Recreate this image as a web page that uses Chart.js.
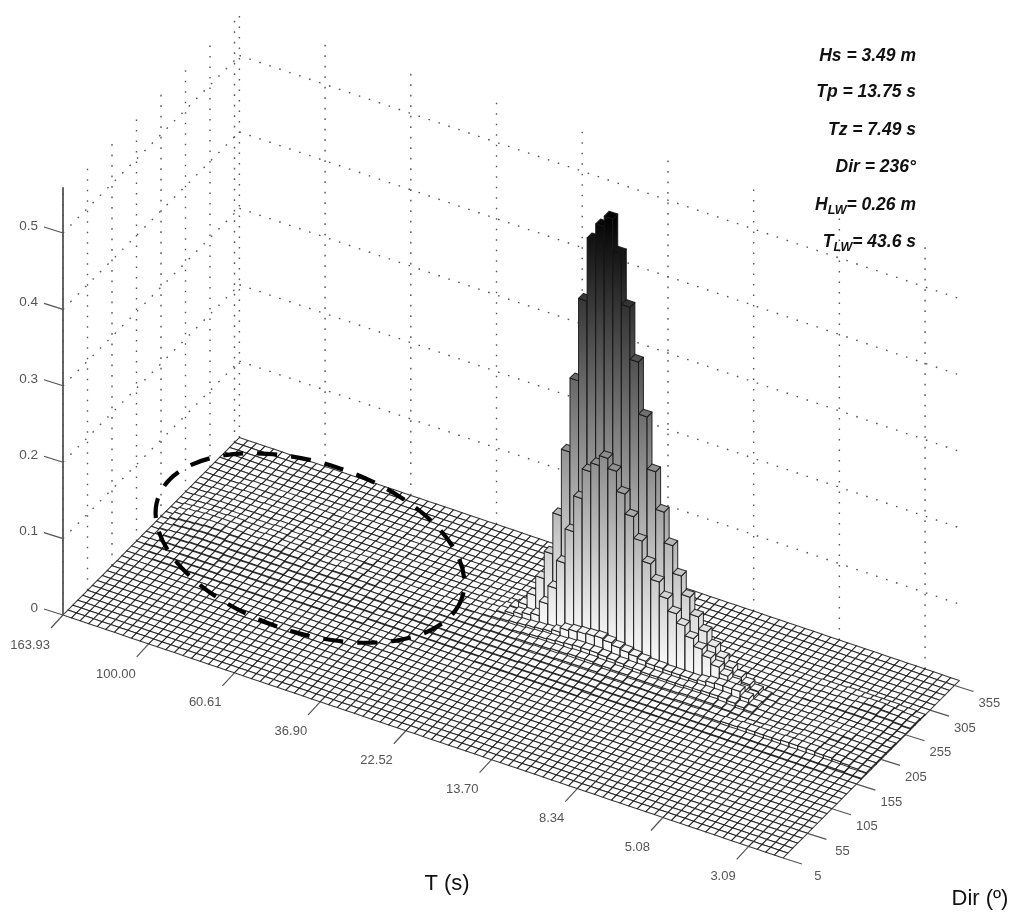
<!DOCTYPE html>
<html><head><meta charset="utf-8">
<style>html,body{margin:0;padding:0;background:#fff}canvas{display:block;filter:blur(.55px)}</style>
<script src="https://cdn.jsdelivr.net/npm/chart.js@4"></script>
</head><body><canvas id="c" width="1024" height="921"></canvas>
<script>
const tLabels=["163.93","100.00","60.61","36.90","22.52","13.70","8.34","5.08","3.09"];
const dirLabels=["5","55","105","155","205","255","305","355"];
const zTicks=[0,0.1,0.2,0.3,0.4,0.5];
const stats=[["Hs = 3.49 m"],["Tp = 13.75 s"],["Tz = 7.49 s"],["Dir = 236°"],["H","LW","= 0.26 m"],["T","LW","= 43.6 s"]];
// bar heights in thousandths, one array per direction bin, one entry per period bin
const dir135=[0,0,0,1,1,1,1,1,1,1,1,1,1,1,1,1,1,1,0,0];
const dir145=[0,0,1,1,2,2,2,2,2,2,1,1,1,1,1,1,1,1,1,1,1,1,1,1,1,1,1,0,0,0,0,0,0,0,0,0,0,0,0,0,1,1,1,1,1,1,1,1,1,1,1,1];
const dir155=[0,1,2,2,2,3,3,3,3,2,2,2,2,2,2,2,2,2,1,1,1,1,1,1,1,1,1,1,1,1,1,1,1,1,1,1,1,1,1,1,1,1,1,1,2,2,2,2,2,2,2,2,2,1,1,1,1,1,1,1,1,1,1,1,1,1,1,1,1,1,1,1,1,1,1,1,1,1,1,1];
const dir165=[0,1,2,3,3,4,4,4,4,3,3,3,3,3,3,3,3,2,2,2,2,2,2,2,2,2,2,1,1,1,1,1,1,2,2,2,2,2,2,2,2,2,2,2,3,3,3,3,3,3,3,3,3,2,2,2,2,2,2,2,2,2,2,2,2,2,2,2,2,2,2,2,2,2,2,2,2,2,2,2,2,2,1,1];
const dir175=[0,1,3,4,4,5,5,5,5,4,4,4,4,4,4,4,3,3,3,3,3,3,3,3,3,2,2,2,2,2,2,2,2,2,3,3,3,3,3,3,3,3,3,3,3,4,4,4,4,4,4,4,4,3,3,3,3,3,3,3,3,3,3,3,4,4,4,5,5,6,6,6,6,6,7,7,7,7,6,6,5,4,3,2];
const dir185=[0,2,3,4,5,6,6,6,5,5,5,5,5,5,5,4,4,4,4,3,3,4,4,3,3,3,3,2,2,2,2,3,3,3,3,3,3,3,3,4,4,4,4,4,5,5,5,6,6,6,6,6,5,5,5,4,4,4,4,4,4,5,5,5,5,4,4,3,3,3,3,4,4,5,5,6,6,6,5,5,5,4,3,2];
const dir195=[0,2,4,5,6,7,7,7,6,6,6,6,6,6,5,5,5,4,4,4,4,4,4,4,3,3,3,3,3,3,3,3,3,4,4,4,4,4,4,5,5,5,6,6,7,7,8,8,9,9,9,8,8,7,7,6,6,6,6,6,6,7,7,7,7,6,5,4,3,3,3,3,3,4,4,5,5,5,4,4,4,3,3,2];
const dir205=[0,3,5,6,7,8,8,7,7,6,6,7,7,7,6,6,5,5,4,4,5,5,5,4,4,3,3,3,3,3,3,3,4,4,4,4,5,5,5,6,6,7,8,9,10,11,12,13,14,14,14,13,12,11,10,10,9,9,9,9,9,10,10,11,11,11,9,7,5,3,3,3,3,4,4,5,5,5,5,4,4,4,3,2];
const dir215=[0,3,5,6,7,7,7,7,6,6,6,7,7,6,6,5,5,4,4,4,5,5,4,3,3,3,3,3,3,3,3,3,4,4,4,5,5,6,7,8,9,10,11,12,13,16,22,24,25,26,27,25,22,20,18,16,14,14,13,13,13,13,15,17,18,18,18,12,6,3,3,3,3,4,4,5,5,5,5,5,4,4,3,2];
const dir225=[0,2,3,4,5,5,6,6,5,5,5,6,6,5,5,4,4,4,3,3,4,4,3,3,3,3,2,2,2,2,3,3,3,4,4,4,5,6,8,11,14,17,20,39,63,100,145,192,231,243,256,243,217,191,163,137,117,99,83,71,58,48,40,32,24,17,12,8,5,3,2,3,3,3,4,4,4,4,4,4,4,4,3,2];
const dir235=[0,1,2,3,3,4,4,4,4,4,4,5,5,4,4,4,3,3,3,3,3,4,4,3,3,3,3,2,2,2,2,2,3,3,3,4,4,5,7,12,20,36,62,98,152,239,336,444,527,549,563,521,455,387,319,251,202,162,126,102,80,64,48,37,28,20,14,9,5,3,2,2,2,3,3,3,3,3,3,3,3,3,2,1];
const dir245=[0,1,2,2,3,3,3,3,3,3,3,4,4,3,3,3,3,2,2,2,2,3,3,3,2,2,2,2,2,2,2,2,2,2,3,3,3,4,5,7,9,11,13,15,17,19,21,22,23,24,24,23,22,20,18,16,14,12,11,10,9,8,7,6,5,4,3,3,2,2,2,2,2,3,3,3,3,3,3,3,3,3,2,1];
const dir255=[0,0,1,2,2,3,3,3,3,3,3,3,3,3,3,3,2,2,2,2,2,2,2,2,2,2,2,2,2,1,1,2,2,2,2,2,3,3,4,5,6,7,8,9,10,11,12,12,13,13,13,12,12,11,10,9,8,7,6,5,5,4,4,3,3,2,2,2,2,2,2,2,3,3,3,4,4,4,4,4,3,3,2,1];
const dir265=[0,0,1,1,2,2,2,2,3,3,3,3,3,2,2,2,2,2,2,2,2,2,2,2,2,1,1,1,1,1,1,1,1,1,2,2,2,2,3,3,4,4,5,5,6,6,6,7,7,7,7,6,6,6,5,5,4,4,3,3,3,2,2,2,2,2,2,2,2,2,2,2,2,3,3,4,4,5,5,5,4,4,3,2];
const dir275=[0,0,0,1,1,2,2,2,2,2,2,2,2,2,2,2,2,2,1,1,1,1,1,1,1,1,1,1,1,1,1,1,1,1,1,1,1,2,2,2,2,3,3,3,3,3,4,4,4,4,4,4,3,3,3,3,2,2,2,2,2,1,1,1,1,1,1,1,1,2,2,2,2,3,3,4,4,5,6,6,5,4,3,2];
const dir285=[0,0,0,0,1,1,1,1,1,2,2,2,2,2,2,1,1,1,1,1,1,1,1,1,1,1,1,1,1,1,1,1,1,1,1,1,1,1,1,1,1,1,1,2,2,2,2,2,2,2,2,2,2,1,1,1,1,1,1,1,1,1,1,1,1,1,1,1,1,1,1,1,2,2,2,3,3,3,3,3,3,2,2,1];
const dir295=[0,0,0,0,0,1,1,1,1,1,1,1,1,1,1,1,1,1,1,1,1,1,1];
const heightRows=[[13,dir135],[14,dir145],[15,dir155],[16,dir165],[17,dir175],[18,dir185],[19,dir195],[20,dir205],[21,dir215],[22,dir225],[23,dir235],[24,dir245],[25,dir255],[26,dir265],[27,dir275],[28,dir285],[29,dir295]];

const nT=84,nDir=36,TICK_T=10,TICK_DIR=5,zTop=0.56;
const O={x:63,y:615},IS={x:8.571,y:2.893},JS={x:4.9,y:-4.93},ZS=764;
const P=(i,j,z=0)=>({x:O.x+i*IS.x+j*JS.x,y:O.y+i*IS.y+j*JS.y-z*ZS});
const lookup={};heightRows.forEach(([j,a])=>lookup[j]=a);

const bars=[];
for(let j=nDir-1;j>=0;j--)for(let i=0;i<nT;i++){
  const z=((lookup[j]&&lookup[j][i])||0)/1000,p=P(i+.5,j+.5,z);
  bars.push({x:p.x,y:p.y,i,j,z});
}
const gray=z=>{const v=Math.round(255*Math.max(0,1-z/0.57));return `rgb(${v},${v},${v})`};
class Bar3D extends Chart.ScatterController{
  draw(){
    const c=this.chart.ctx,X=this.chart.scales.x,Y=this.chart.scales.y,w=1;
    c.save();c.lineJoin='round';c.lineWidth=1.05;c.strokeStyle='rgba(20,20,20,.85)';
    const poly=(pts,fill)=>{c.beginPath();pts.forEach((p,k)=>{const a=X.getPixelForValue(p.x),b=Y.getPixelForValue(p.y);k?c.lineTo(a,b):c.moveTo(a,b)});c.closePath();c.fillStyle=fill;c.fill();c.stroke()};
    for(const b of this.getDataset().data){
      const i0=b.i+.5-w/2,i1=b.i+.5+w/2,j0=b.j+.5-w/2,j1=b.j+.5+w/2;
      if(b.z>0){
        const top=Y.getPixelForValue(P(i1,j0,b.z).y),bot=Y.getPixelForValue(P(i1,j0,0).y);
        const g=c.createLinearGradient(0,bot,0,top);g.addColorStop(0,'#fff');g.addColorStop(1,gray(b.z));
        poly([P(i0,j0),P(i1,j0),P(i1,j0,b.z),P(i0,j0,b.z)],g);
        poly([P(i1,j0),P(i1,j1),P(i1,j1,b.z),P(i1,j0,b.z)],g);
      }
      poly([P(i0,j0,b.z),P(i1,j0,b.z),P(i1,j1,b.z),P(i0,j1,b.z)],gray(b.z));
    }
    c.restore();
  }
}
Bar3D.id='bar3d';Bar3D.defaults=Chart.ScatterController.defaults;
Chart.register(Bar3D);

const lineDs=(a,b,kind)=>({type:'scatter',showLine:true,pointRadius:0,fill:false,data:[a,b],
  borderColor:kind==='dot'?'#555':'#555',borderWidth:kind==='dot'?1.4:(kind==='axis'?1.8:1.2),
  borderDash:kind==='dot'?[1.6,8.9]:[],order:kind==='dot'?5:1});
const ds=[];
// back walls
for(let k=0;k<dirLabels.length;k++){const j=k*TICK_DIR;ds.push(lineDs(P(0,j),P(0,j,zTop),'dot'))}
for(let k=0;k<tLabels.length;k++){const i=k*TICK_T;ds.push(lineDs(P(i,nDir),P(i,nDir,zTop),'dot'))}
zTicks.filter(z=>z>0).forEach(z=>{ds.push(lineDs(P(0,0,z),P(0,nDir,z),'dot'));ds.push(lineDs(P(0,nDir,z),P(nT,nDir,z),'dot'))});
// z axis and tick marks
ds.push(lineDs(P(0,0),P(0,0,zTop),'axis'));
zTicks.forEach(z=>{const a=P(0,0,z);ds.push(lineDs(a,{x:a.x-19,y:a.y-6},'tick'))});
tLabels.forEach((_,k)=>{const a=P(k*TICK_T,0);ds.push(lineDs(a,{x:a.x-12,y:a.y+13},'tick'))});
dirLabels.forEach((_,k)=>{const a=P(nT,k*TICK_DIR);ds.push(lineDs(a,{x:a.x+19,y:a.y+6},'tick'))});
ds.push({type:'bar3d',data:bars,pointRadius:0,order:3});

const textPlugin={id:'txt',afterDraw(ch){
  const c=ch.ctx,X=ch.scales.x,Y=ch.scales.y,px=(x,y)=>[X.getPixelForValue(x),Y.getPixelForValue(y)];
  c.save();
  // marked long-wave region
  const [ex,ey]=px(310,548);
  c.beginPath();c.ellipse(ex,ey,160,85,18*Math.PI/180,0,2*Math.PI);
  c.strokeStyle='#000';c.lineWidth=4.2;c.setLineDash([20,14]);c.stroke();c.setLineDash([]);
  c.fillStyle='#555';c.font='13.5px "Liberation Sans"';c.textBaseline='middle';
  c.textAlign='right';
  zTicks.forEach(z=>{const a=P(0,0,z);c.fillText(String(z),...px(a.x-25,a.y-7))});
  c.font='13px "Liberation Sans"';
  tLabels.forEach((t,k)=>{const a=P(k*TICK_T,0);c.fillText(t,...px(a.x-13,a.y+30))});
  c.textAlign='center';
  dirLabels.forEach((t,k)=>{const a=P(nT,k*TICK_DIR);c.fillText(t,...px(a.x+35,a.y+18))});
  c.fillStyle='#111';c.font='22px "Liberation Sans"';
  c.fillText('T (s)',...px(447,884));
  c.fillText('Dir (º)',...px(980,899));
  c.fillStyle='#111';
  const ys=[56,92,130,167,205,242],R=916;
  c.textAlign='left';
  stats.forEach((s,k)=>{
    const main='italic bold 17.5px "Liberation Sans"',sub='italic bold 12.5px "Liberation Sans"';
    let w=0;s.forEach((t,m)=>{c.font=(s.length===3&&m===1)?sub:main;w+=c.measureText(t).width});
    let x=R-w;
    s.forEach((t,m)=>{const isSub=s.length===3&&m===1;c.font=isSub?sub:main;
      c.fillText(t,...px(x,ys[k]+(isSub?6:0)));x+=c.measureText(t).width});
  });
  c.restore();
}};

new Chart(document.getElementById('c'),{
  type:'scatter',
  data:{datasets:ds},
  options:{responsive:false,animation:false,events:[],
    layout:{padding:0},
    plugins:{legend:{display:false},tooltip:{enabled:false},title:{display:false}},
    scales:{x:{type:'linear',min:0,max:1024,display:false},y:{type:'linear',min:0,max:921,reverse:true,display:false}}},
  plugins:[textPlugin]
});
</script></body></html>
